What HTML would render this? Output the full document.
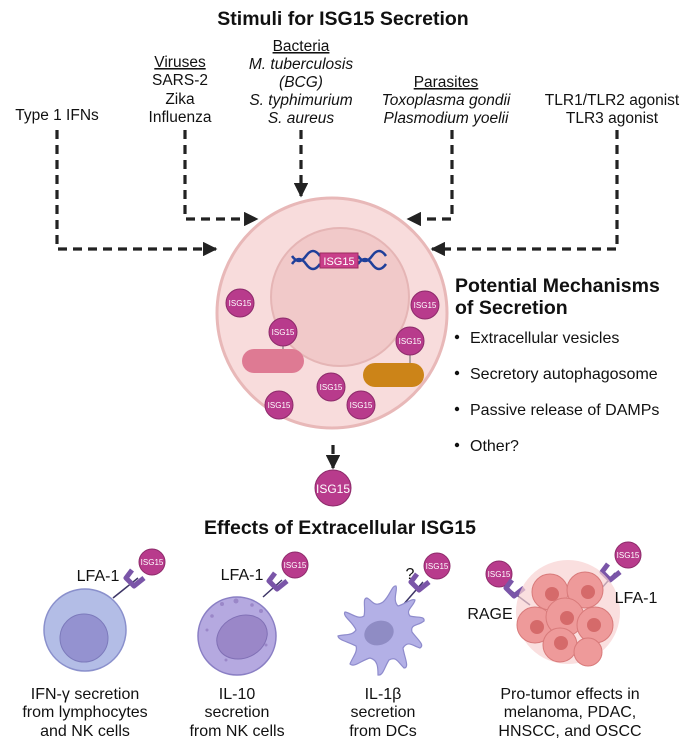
<!DOCTYPE html>
<html><head><meta charset="utf-8"><style>
html,body{margin:0;padding:0;background:#fff;}
svg{display:block;font-family:"Liberation Sans",Arial,sans-serif;}
</style></head><body>
<svg width="685" height="744" viewBox="0 0 685 744" xmlns="http://www.w3.org/2000/svg">
<defs>
<marker id="ah" viewBox="0 0 10 10" refX="9" refY="5" markerWidth="4.5" markerHeight="4.5" orient="auto"><path d="M0,0 L10,5 L0,10 z" fill="#222"/></marker>
</defs>
<rect width="685" height="744" fill="#fff"/>
<g font-size="15.5" fill="#111" text-anchor="middle">
<text x="343" y="25" font-size="19.5" font-weight="bold">Stimuli for ISG15 Secretion</text>
<text x="180" y="67" text-decoration="underline">Viruses</text>
<text x="180" y="85">SARS-2</text>
<text x="180" y="104">Zika</text>
<text x="180" y="122">Influenza</text>
<text x="301" y="51" text-decoration="underline">Bacteria</text>
<text x="301" y="69" font-style="italic">M. tuberculosis</text>
<text x="301" y="87" font-style="italic">(BCG)</text>
<text x="301" y="105" font-style="italic">S. typhimurium</text>
<text x="301" y="123" font-style="italic">S. aureus</text>
<text x="446" y="87" text-decoration="underline">Parasites</text>
<text x="446" y="105" font-style="italic">Toxoplasma gondii</text>
<text x="446" y="123" font-style="italic">Plasmodium yoelii</text>
<text x="612" y="105">TLR1/TLR2 agonist</text>
<text x="612" y="123">TLR3 agonist</text>
<text x="57" y="120">Type 1 IFNs</text>
</g>
<g stroke="#222" stroke-width="3.2" fill="none" stroke-dasharray="9,6">
<path d="M57,130 V249 H216" marker-end="url(#ah)"/>
<path d="M185,130 V219 H257" marker-end="url(#ah)"/>
<path d="M301,130 V196" marker-end="url(#ah)"/>
<path d="M452,130 V219 H408" marker-end="url(#ah)"/>
<path d="M617,130 V249 H432" marker-end="url(#ah)"/>
<path d="M333,278 V328" marker-end="url(#ah)"/>
<path d="M333,445 V468" marker-end="url(#ah)"/>
</g>
<circle cx="332" cy="313" r="115" fill="#f8dcdc" stroke="#e8b8b8" stroke-width="3"/>
<circle cx="340" cy="297" r="69" fill="#f1c9c9" stroke="#e5b5b5" stroke-width="2"/>
<g stroke="#1f3f9a" stroke-width="2.5" fill="none">
<path d="M292,256 q7,10 14,0 q7,-10 14,0 M292,264 q7,-10 14,0 q7,10 14,0"/>
<path d="M358,256 q7,10 14,0 q7,-10 14,0 M358,264 q7,-10 14,0 q7,10 14,0"/>
</g>
<rect x="320" y="253" width="38" height="15" fill="#c93f8a" stroke="#9a2c60"/>
<text x="339" y="265" font-size="11" fill="#fff" text-anchor="middle">ISG15</text>
<rect x="242" y="349" width="62" height="24" rx="12" fill="#de7a93"/>
<rect x="363" y="363" width="61" height="24" rx="12" fill="#cc8418"/>
<line x1="283" y1="340" x2="283" y2="349" stroke="#666"/>
<line x1="410" y1="350" x2="410" y2="363" stroke="#666"/>
<g fill="#b83b8c" stroke="#8d2a6a" stroke-width="1">
<circle cx="240" cy="303" r="14"/><circle cx="425" cy="305" r="14"/>
<circle cx="283" cy="332" r="14"/><circle cx="410" cy="341" r="14"/>
<circle cx="331" cy="387" r="14"/><circle cx="279" cy="405" r="14"/><circle cx="361" cy="405" r="14"/>
<circle cx="333" cy="488" r="18"/>
<circle cx="152" cy="562" r="13"/><circle cx="295" cy="565" r="13"/><circle cx="437" cy="566" r="13"/>
<circle cx="499" cy="574" r="13"/><circle cx="628" cy="555" r="13"/>
</g>
<g font-size="8" fill="#fff" text-anchor="middle">
<text x="240" y="306">ISG15</text><text x="425" y="308">ISG15</text><text x="283" y="335">ISG15</text>
<text x="410" y="344">ISG15</text><text x="331" y="390">ISG15</text><text x="279" y="408">ISG15</text><text x="361" y="408">ISG15</text>
<text x="152" y="565">ISG15</text><text x="295" y="568">ISG15</text><text x="437" y="569">ISG15</text>
<text x="499" y="577">ISG15</text><text x="628" y="558">ISG15</text>
</g>
<text x="333" y="493" font-size="12" fill="#fff" text-anchor="middle">ISG15</text>
<g fill="#111">
<text x="455" y="292" font-size="19.5" font-weight="bold">Potential Mechanisms</text>
<text x="455" y="314" font-size="19.5" font-weight="bold">of Secretion</text>
<g font-size="16">
<circle cx="457" cy="337" r="2.2"/><text x="470" y="343">Extracellular vesicles</text>
<circle cx="457" cy="373" r="2.2"/><text x="470" y="379">Secretory autophagosome</text>
<circle cx="457" cy="409" r="2.2"/><text x="470" y="415">Passive release of DAMPs</text>
<circle cx="457" cy="445" r="2.2"/><text x="470" y="451">Other?</text>
</g>
<text x="340" y="534" font-size="19.5" font-weight="bold" text-anchor="middle">Effects of Extracellular ISG15</text>
</g>
<g stroke="#3d3566" stroke-width="1.5">
<line x1="113" y1="598" x2="138" y2="578"/>
<line x1="263" y1="597" x2="282" y2="580"/>
<line x1="403" y1="605" x2="423" y2="582"/>
<line x1="530" y1="605" x2="510" y2="590"/>
<line x1="600" y1="590" x2="615" y2="573"/>
</g>
<g fill="none" stroke="#7a55a8" stroke-width="5" stroke-linejoin="round">
<path d="M132,570 l-6,8 l8,8 l10,-8"/>
<path d="M275,573 l-6,8 l8,8 l10,-8"/>
<path d="M417,574 l-6,8 l8,8 l10,-8"/>
<path d="M512,580 l-6,8 l8,8 l10,-8"/>
<path d="M608,564 l-6,8 l8,8 l10,-8"/>
</g>
<circle cx="85" cy="630" r="41" fill="#b3bde6" stroke="#8a90cc" stroke-width="1.5"/>
<circle cx="84" cy="638" r="24" fill="#9492d0" stroke="#7c7abb"/>
<circle cx="237" cy="636" r="39" fill="#b5a9e0" stroke="#8a7fc4" stroke-width="1.5"/>
<ellipse cx="242" cy="637" rx="26" ry="21" transform="rotate(-25 242 637)" fill="#9a87c8" stroke="#8070b5"/>
<g fill="#9a87c8"><circle cx="222" cy="604" r="2"/><circle cx="236" cy="601" r="2.5"/><circle cx="212" cy="616" r="1.8"/><circle cx="252" cy="605" r="1.8"/><circle cx="207" cy="630" r="1.5"/><circle cx="261" cy="611" r="2"/><circle cx="266" cy="645" r="1.5"/><circle cx="226" cy="660" r="1.5"/></g>
<g fill="#b3b0e6" stroke="#8e8bcc" stroke-width="1.2">
<path d="M383,602 C390,596 392,585 396,586 C398,590 392,600 398,606 C405,604 412,598 415,600 C414,606 405,610 410,616 C418,618 425,616 424,621 C418,626 410,624 412,632 C418,640 425,645 420,648 C413,646 408,640 403,648 C404,656 410,668 404,668 C398,662 396,656 389,660 C384,668 383,676 378,675 C378,668 378,660 370,658 C362,660 354,668 350,664 C352,658 358,652 356,646 C349,642 338,640 338,636 C345,634 352,636 356,630 C353,622 342,616 345,612 C351,613 358,620 364,616 C366,608 362,598 367,598 C372,600 374,608 383,602 Z"/>
</g>
<ellipse cx="379" cy="633" rx="15" ry="12" transform="rotate(-20 379 633)" fill="#8f8cc4"/>
<g>
<circle cx="568" cy="612" r="52" fill="#f8d2d2" opacity="0.7"/>
<g fill="#ee9a9a" stroke="#d87a7a" stroke-width="1">
<circle cx="550" cy="592" r="18"/><circle cx="585" cy="590" r="18"/><circle cx="535" cy="625" r="18"/>
<circle cx="565" cy="617" r="19"/><circle cx="595" cy="625" r="18"/><circle cx="560" cy="645" r="17"/><circle cx="588" cy="652" r="14"/>
</g>
<g fill="#d56a6a"><circle cx="552" cy="594" r="7"/><circle cx="588" cy="592" r="7"/><circle cx="537" cy="627" r="7"/><circle cx="567" cy="618" r="7"/><circle cx="594" cy="625" r="7"/><circle cx="561" cy="643" r="7"/></g>
</g>
<g font-size="16" fill="#111">
<text x="98" y="581" text-anchor="middle">LFA-1</text>
<text x="242" y="580" text-anchor="middle">LFA-1</text>
<text x="410" y="579" text-anchor="middle">?</text>
<text x="490" y="619" text-anchor="middle">RAGE</text>
<text x="636" y="603" text-anchor="middle">LFA-1</text>
</g>
<g font-size="16" fill="#111" text-anchor="middle">
<text x="85" y="699">IFN-γ secretion</text><text x="85" y="717">from lymphocytes</text><text x="85" y="736">and NK cells</text>
<text x="237" y="699">IL-10</text><text x="237" y="717">secretion</text><text x="237" y="736">from NK cells</text>
<text x="383" y="699">IL-1β</text><text x="383" y="717">secretion</text><text x="383" y="736">from DCs</text>
<text x="570" y="699">Pro-tumor effects in</text><text x="570" y="717">melanoma, PDAC,</text><text x="570" y="736">HNSCC, and OSCC</text>
</g>
</svg>
</body></html>
